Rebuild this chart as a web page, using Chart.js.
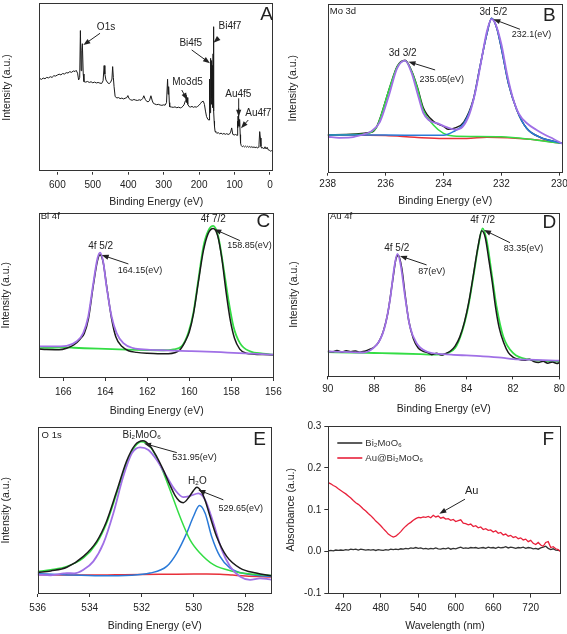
<!DOCTYPE html>
<html><head><meta charset="utf-8">
<script src="https://cdn.jsdelivr.net/npm/chart.js@4.4.1/dist/chart.umd.min.js"></script>
<style>
body{margin:0;background:#fff;width:567px;height:634px;position:relative;overflow:hidden}
canvas{position:absolute}
</style></head><body>
<canvas id="cA"></canvas><canvas id="cB"></canvas><canvas id="cC"></canvas>
<canvas id="cD"></canvas><canvas id="cE"></canvas><canvas id="cF"></canvas>
<script>
// ---------------- DATA ----------------
// Panel A: XPS survey (binding energy eV, intensity a.u. 0-100)
const surveyA = [[650,55.4],[645,54.8],[640,55.6],[635,55.2],[630,56.0],[625,55.7],[620,56.4],[615,56.0],[610,57.0],[605,56.8],[600,57.4],[595,57.9],[590,57.5],[585,58.3],[580,58.0],[575,58.8],[570,58.6],[565,59.4],[560,59.0],[555,59.8],[550,59.5],[547,60.2],[543,58.5],[540,54.5],[537,56],[535,83.8],[533,60],[531,72],[529.5,76],[527,58],[525,53.5],[520,53.2],[515,53.6],[510,53.0],[505,53.4],[500,52.8],[495,53.2],[490,52.7],[485,53.0],[480,52.6],[475,52.4],[471,54],[468,63],[466,58],[463,54.5],[458,52.8],[454,52.3],[450,53],[446,55],[444,62.4],[442,56],[440,50.5],[437,44.6],[432,43.8],[427,44],[423,43.4],[418,43.7],[413,43.2],[409,43.6],[404,44],[401,45.2],[398,43.5],[394,42.8],[389,42.4],[384,42.9],[379,42.5],[374,42.3],[369,42.7],[364,42.4],[359,43.5],[356,45.1],[352,43],[348,41.8],[344,41.5],[340,42.2],[336,45.1],[332,42],[329,40.6],[325,40.2],[320,39.8],[315,40],[310,39.6],[305,39.4],[300,39.7],[296,39.5],[292,41],[289,54.9],[287.5,46],[286,50.5],[284,41],[283,38.6],[278,38.4],[273,38.2],[268,38.5],[263,38.0],[258,38.3],[253,37.9],[249,38.2],[245,39],[242,40],[239,42],[237,45.5],[235,41],[234,44],[232,40],[228,38.6],[224,38.4],[220,38.8],[216,38.2],[212,38.6],[208,38.3],[204,38.8],[200,39.5],[196,40.5],[192,41.6],[188,41.8],[185,40],[182,36],[179,32.7],[175,31],[172,30.7],[171.5,36],[171,31],[170.5,48],[170,33],[169.5,55],[169,35],[168.5,60],[168,38],[167.5,64],[167,40],[166.5,67.3],[166,42],[165.5,66],[165,40],[164.5,65],[164,44],[163.5,63],[163,40],[162.5,58],[162,38],[161.5,55],[161,45],[160.5,70],[160,86.1],[159.5,62],[159,48],[158.5,55],[158,36],[157.5,30],[157,28],[156,26.7],[155,24],[153,23.5],[150,22.8],[146,23.2],[142,22.5],[138,22.9],[134,22.3],[130,22.7],[126,22.2],[122,22.6],[118,22.1],[114,22.4],[111,23.5],[108,26],[105,22.2],[101,21.8],[97,22.1],[93,21.6],[92,23],[91,30],[90.5,26],[90,33],[89.5,37.6],[89,27],[88.5,33],[88,28],[87.5,32],[87,27],[86.5,31],[86,27],[85.5,30],[84.6,30.7],[84,22],[83,17],[81,15.5],[78,14.8],[75,15.3],[72,14.7],[69,15.2],[66,14.6],[63,15.1],[60,14.5],[57,15],[54,14.4],[51,14.9],[48,14.3],[45,14.8],[42,14.2],[39,14.7],[36,14.1],[33,14.5],[31,16],[29,23.8],[27,20],[25.5,15],[23.5,14],[20,14.3],[17,13.6],[14,14.8],[11,13.5],[8,14.5],[5,13],[2,12.8],[-1,12.2],[-4,12.5],[-9,11.9]];
const ticksA = [600,500,400,300,200,100,0];

// Panel B: Mo 3d
const moRaw = [[238,21.3],[237.6,20.7],[237.2,20.9],[236.8,22.5],[236.5,24.5],[236.2,30],[235.9,45],[235.6,62],[235.33,66.4],[235.1,59],[234.9,47],[234.7,35.5],[234.5,31],[234.2,29.2],[233.9,27],[233.6,25.5],[233.35,27],[233.1,35],[232.9,48],[232.7,66],[232.5,84],[232.34,91],[232.2,88],[232.0,76],[231.8,58],[231.6,44],[231.4,35],[231.1,29],[230.8,25.5],[230.5,22.5],[230.2,20],[229.88,17]];
const moGreen = [[238,22.4],[237,22.6],[236.5,24],[236.3,27.3],[235.85,51],[235.6,62.8],[235.33,66.4],[235.1,59.9],[234.9,50],[234.7,37.2],[234.35,28.3],[234,23.3],[233.66,21.7],[233,21.5],[232,21.3],[231,19.8],[230,17.6],[229.88,17.5]];
const moBlue = [[238,22.4],[236,22.3],[234,22.2],[233.66,24.3],[233.3,29.2],[232.97,43],[232.74,62.8],[232.5,82.6],[232.34,91.5],[232.16,85.6],[231.99,72.7],[231.76,53],[231.47,37.2],[231.13,26.3],[230.67,21],[229.88,17.4]];
const moRed = [[238,22.4],[236,22],[235,21],[234,20.3],[233.2,20.3],[232.5,21],[231,19.8],[229.88,17.4]];
const moEnv = [[238,22.4],[236.5,24],[236.3,27.5],[235.85,51],[235.6,63],[235.33,66.6],[235.1,60.2],[234.9,50.5],[234.7,38.5],[234.35,30.5],[234,27.5],[233.83,25.7],[233.6,26.6],[233.3,30],[232.97,43.5],[232.74,63],[232.5,82.6],[232.34,91.5],[232.16,85.6],[231.99,72.7],[231.76,53],[231.47,37.2],[231.13,26.3],[230.67,21],[229.88,17.4]];
const ticksB = [238,236,234,232,230];

// Panel C: Bi 4f
const biPurple = [[167.15,19.1],[166.5,19.1],[165.84,19.5],[165.37,22.1],[165.05,27.2],[164.81,37.2],[164.57,57.3],[164.37,72.4],[164.25,75.9],[164.1,70.4],[163.94,55.3],[163.7,37.2],[163.46,27.2],[163.14,21.1],[162.67,18.1],[162,17.2],[161.08,16.7],[160,16.3],[159.5,16.1],[158.5,15.6],[157.9,15.2],[157,14.7],[155.97,14.1]];
const biGreen = [[167.15,18.1],[166.5,18.3],[166,18.5],[165.5,18.3],[165,18],[164,17.6],[163,17.2],[162,16.9],[161.5,16.8],[161,16.9],[160.76,17.3],[160.37,19.1],[160.05,27.2],[159.81,39.2],[159.57,59.4],[159.33,79.5],[159.1,89],[158.86,92],[158.62,85.5],[158.38,67.4],[158.14,47.3],[157.9,31.2],[157.59,21.1],[157.11,16.1],[156.5,14.8],[155.97,14.1]];
const biRaw = [[167.15,17.5],[166.8,17.2],[166.2,17.1],[165.84,18],[165.5,20],[165.2,23.5],[165,27],[164.8,36],[164.57,56],[164.37,71],[164.25,74.5],[164.1,70],[163.94,56],[163.7,36],[163.5,25],[163.2,19],[162.9,16.5],[162.5,15.5],[162,14.9],[161.5,14.6],[161,14.7],[160.7,15.3],[160.45,17],[160.2,22],[160.0,28],[159.8,39],[159.57,58],[159.33,77],[159.1,87.5],[158.86,90.5],[158.65,86],[158.45,72],[158.25,52],[158.05,35],[157.85,24],[157.6,17.5],[157.3,15],[156.9,14.4],[156.5,14.2],[155.97,14]];
const ticksC = [166,164,162,160,158,156];

// Panel D: Au 4f
const auPurple = [[90,15.2],[89.5,15],[89,14.8],[88.46,14.6],[88.03,17.3],[87.74,22.4],[87.53,30.5],[87.31,46.7],[87.12,67.1],[86.99,74.8],[86.85,68.1],[86.66,48.8],[86.45,30.5],[86.16,20.3],[85.73,15.2],[85,13.6],[84.58,13.2],[84,12.8],[83.42,12.4],[82.5,11.5],[81.99,10.6],[81,10.1],[80,9.6]];
const auGreen = [[90,14.8],[89,14.6],[88,14.3],[87,14],[86,13.6],[85.5,13.3],[85,13.4],[84.86,14],[84.5,17.3],[84.22,26.4],[83.93,42.7],[83.71,61],[83.5,79.3],[83.31,90.4],[83.14,83.3],[82.92,63],[82.71,42.7],[82.42,24.4],[81.99,14.2],[81.27,10.2],[80.5,9.4],[80,9.1]];
const auRaw = [[90,15.4],[89.8,15],[89.6,15.8],[89.4,14.9],[89.2,15.6],[89,15.1],[88.8,15.5],[88.6,14.8],[88.4,15.4],[88.2,16.5],[88,17.8],[87.8,21],[87.6,27.5],[87.4,39],[87.2,58],[87.05,72],[86.95,74],[86.8,66],[86.65,49],[86.5,34],[86.3,23],[86.1,17.5],[85.9,15.5],[85.7,14.6],[85.5,13.3],[85.3,14.2],[85.1,13],[84.9,14],[84.7,15.5],[84.5,18.5],[84.3,24],[84.1,33],[83.9,46],[83.7,63],[83.5,80],[83.35,89],[83.2,85],[83.05,72],[82.9,58],[82.75,42],[82.6,30],[82.4,20.5],[82.2,14.5],[82,11.8],[81.8,10.6],[81.5,9.8],[81.3,10.5],[81.1,9],[80.9,8.5],[80.7,9.2],[80.5,8.1],[80.3,8.8],[80.1,7.9],[80,8.4]];
const ticksD = [90,88,86,84,82,80];

// Panel E: O 1s
const oGreen = [[536,13.5],[535.5,14.5],[534.88,16.5],[534.24,21.5],[533.73,30.4],[533.35,42.3],[532.96,60.2],[532.58,78.1],[532.26,88.1],[532,91],[531.68,88.1],[531.29,77.1],[530.91,62.2],[530.53,46.3],[530.14,32.4],[529.76,24.5],[529.24,17.5],[528.47,13.5],[527.8,12],[527,11.1]];
const oBlue = [[536,12.1],[535,11.5],[533.6,10.9],[532.4,11.2],[531.68,12.5],[531.04,16.5],[530.65,24.5],[530.27,36.4],[530.01,46.3],[529.78,52.9],[529.56,48.3],[529.31,34.4],[528.99,22.5],[528.6,15.5],[527.96,11.9],[527,10.5]];
const oRed = [[536,11.5],[535,11.4],[534,11.3],[533,11.5],[532,11.7],[531,11.8],[530,11.9],[529.5,12],[529,11.8],[528.5,11.3],[528,10.8],[527,10.1]];
const oEnv = [[536,12.8],[535.5,13.8],[534.88,16],[534.24,22.5],[533.73,31.5],[533.35,43.5],[532.96,61.5],[532.58,79.5],[532.26,89],[531.95,91.6],[531.68,88.5],[531.42,82],[531.17,74.2],[530.91,65],[530.72,59],[530.55,55.5],[530.4,54.6],[530.2,57.5],[530.0,62],[529.88,63.8],[529.7,61],[529.55,55.5],[529.37,46.3],[529.12,34.4],[528.73,22.5],[528.22,15.5],[527.6,12.5],[527,10.9]];
const oRaw = [[536,11.5],[535.5,11.2],[535,12.3],[534.88,12.5],[534.6,12.3],[534.24,14.5],[533.86,19.5],[533.47,30.4],[533.09,48.3],[532.71,70.2],[532.38,84.1],[532.06,87.7],[531.74,86.1],[531.42,80.1],[531.04,70.2],[530.72,62.2],[530.4,57.9],[530.14,58.6],[529.82,60.2],[529.56,56.3],[529.24,42.3],[528.92,26.4],[528.6,16.5],[528.22,10.5],[527.83,8.5],[527.45,9.3],[527.2,9],[527,8.5]];
const ticksE = [536,534,532,530,528];

// Panel F: UV-vis absorbance
const wavelengths = [396,400,404,408,412,416,420,424,428,432,436,440,444,448,452,456,460,464,468,472,476,480,484,488,492,496,500,504,508,512,516,520,524,528,532,536,540,544,548,552,556,560,564,568,572,576,580,584,588,592,596,600,604,608,612,616,620,624,628,632,636,640,644,648,652,656,660,664,668,672,676,680,684,688,692,696,700,704,708,712,716,720,724,728,732,736,740,744,748,752,756,760,764,768];
const absAu = [0.165,0.162,0.158,0.155,0.150,0.146,0.142,0.138,0.133,0.128,0.122,0.117,0.113,0.108,0.102,0.097,0.091,0.086,0.080,0.073,0.068,0.062,0.055,0.049,0.042,0.038,0.035,0.037,0.042,0.048,0.055,0.061,0.066,0.070,0.075,0.079,0.082,0.081,0.083,0.082,0.084,0.081,0.087,0.083,0.085,0.080,0.082,0.078,0.079,0.075,0.077,0.072,0.074,0.076,0.068,0.067,0.064,0.066,0.060,0.062,0.057,0.059,0.053,0.055,0.051,0.052,0.047,0.050,0.044,0.046,0.040,0.042,0.037,0.039,0.034,0.036,0.031,0.033,0.028,0.030,0.024,0.027,0.020,0.017,0.022,0.016,0.013,0.022,0.024,0.010,0.012,0.007,0.005,0.000];
const absBi = [0.002,0.003,0.002,0.004,0.003,0.004,0.003,0.005,0.004,0.006,0.005,0.006,0.004,0.006,0.005,0.004,0.005,0.004,0.005,0.003,0.005,0.004,0.003,0.005,0.004,0.006,0.005,0.006,0.005,0.007,0.006,0.008,0.007,0.009,0.008,0.010,0.008,0.009,0.007,0.008,0.006,0.008,0.007,0.009,0.007,0.006,0.008,0.007,0.009,0.006,0.008,0.007,0.009,0.011,0.008,0.009,0.008,0.010,0.009,0.010,0.008,0.009,0.010,0.008,0.011,0.009,0.010,0.008,0.011,0.009,0.010,0.012,0.009,0.011,0.010,0.008,0.010,0.009,0.011,0.008,0.010,0.009,0.007,0.008,0.006,0.009,0.011,0.013,0.008,0.005,0.007,0.004,0.003,0.002];
const ticksFx = [420,480,540,600,660,720];
const ticksFy = [-0.1,0,0.1,0.2,0.3];

// ---------------- RENDERING ----------------
const FONT = "'Liberation Sans', Arial, Helvetica, sans-serif";
Chart.defaults.font.family = FONT;
Chart.defaults.color = '#222';
const C = {purple:'#a070e6', green:'#33dd44', blue:'#2a7ad8', red:'#e8303a', black:'#1a1a1a'};

const framePlugin = {id:'frame', afterDraw(chart){
  const {ctx, chartArea:a} = chart;
  ctx.save(); ctx.strokeStyle='#333'; ctx.lineWidth=1;
  ctx.strokeRect(Math.round(a.left)+0.5, Math.round(a.top)+0.5, Math.round(a.right-a.left)-1, Math.round(a.bottom-a.top)-1);
  ctx.restore();
}};

function notesPlugin(items){ return {id:'notes', afterDraw(chart){
  const {ctx} = chart, xs = chart.scales.x, ys = chart.scales.y;
  ctx.save(); ctx.fillStyle='#222'; ctx.strokeStyle='#222';
  for (const n of items){
    if (n.arrow){
      const [a,b,c,d] = n.arrow;
      const x1=xs.getPixelForValue(a), y1=ys.getPixelForValue(b), x2=xs.getPixelForValue(c), y2=ys.getPixelForValue(d);
      const ang = Math.atan2(y2-y1, x2-x1), L=7, W=2.6;
      ctx.lineWidth=1; ctx.beginPath(); ctx.moveTo(x1,y1); ctx.lineTo(x2-Math.cos(ang)*L*0.8, y2-Math.sin(ang)*L*0.8); ctx.stroke();
      ctx.beginPath(); ctx.moveTo(x2,y2);
      ctx.lineTo(x2-Math.cos(ang)*L - Math.sin(ang)*W, y2-Math.sin(ang)*L + Math.cos(ang)*W);
      ctx.lineTo(x2-Math.cos(ang)*L + Math.sin(ang)*W, y2-Math.sin(ang)*L - Math.cos(ang)*W);
      ctx.closePath(); ctx.fill();
    } else {
      ctx.font = (n.size||10)+'px '+FONT; ctx.textAlign = n.align||'center'; ctx.textBaseline='middle';
      ctx.fillText(n.text, xs.getPixelForValue(n.x), ys.getPixelForValue(n.y));
    }
  }
  ctx.restore();
}};}

const legendF = {id:'legendF', afterDraw(chart){
  const {ctx, chartArea:a} = chart;
  ctx.save(); ctx.font='9.5px '+FONT; ctx.textBaseline='middle'; ctx.textAlign='left';
  chart.data.datasets.forEach((ds,i)=>{
    const y = a.top + 17 + i*15;
    ctx.strokeStyle = ds.borderColor; ctx.lineWidth = 1.6;
    ctx.beginPath(); ctx.moveTo(a.left+9, y); ctx.lineTo(a.left+34, y); ctx.stroke();
    ctx.fillStyle='#333'; ctx.fillText(ds.label, a.left+37, y);
  });
  ctx.restore();
}};

function xScale(min,max,reverse,ticks,tl,pad,title,xH){
  return {type:'linear',min,max,reverse,
    afterBuildTicks:s=>{s.ticks=ticks.map(v=>({value:v}));},
    afterFit:s=>{s.height=xH;s.paddingLeft=0;s.paddingRight=0;},
    grid:{display:true,drawOnChartArea:false,drawTicks:true,tickLength:tl,color:'#333',lineWidth:1},
    border:{display:false},
    ticks:{autoSkip:false,maxRotation:0,minRotation:0,padding:pad,font:{size:10},color:'#222',callback:v=>String(v)},
    title:{display:true,text:title,font:{size:10.5},color:'#222',padding:0}
  };
}
function yBlank(yW){
  return {type:'linear',min:0,max:100,
    afterFit:s=>{s.width=yW;s.paddingTop=0;s.paddingBottom=0;},
    grid:{display:false}, border:{display:false}, ticks:{display:false},
    title:{display:true,text:'Intensity (a.u.)',font:{size:10.5},color:'#222',padding:0}
  };
}

function build(id, L, datasets, xCfg, yFn, notes, extra){
  const c = document.getElementById(id);
  c.width = L.cw; c.height = L.ch; c.style.left = L.cx+'px'; c.style.top = L.cy+'px';
  const padLeft = Math.max(0, L.ytx - L.cx - 6.3);
  const yW = L.box[0] - L.cx - padLeft;
  const xH = L.cy + L.ch - L.box[3];
  const x = xScale(xCfg.min, xCfg.max, xCfg.reverse, xCfg.ticks, xCfg.tl, xCfg.pad, xCfg.title, xH);
  return new Chart(c, {
    type:'line',
    data:{datasets},
    options:{
      responsive:false, animation:false, devicePixelRatio:1,
      layout:{padding:{left:padLeft, top:L.box[1]-L.cy, right:L.cx+L.cw-L.box[2], bottom:0}},
      plugins:{legend:{display:false}, tooltip:{enabled:false}},
      elements:{point:{radius:0}, line:{borderWidth:1.5, cubicInterpolationMode:'monotone'}},
      scales:{x, y:yFn(yW)}
    },
    plugins:[framePlugin, notesPlugin(notes)].concat(extra||[])
  });
}
const ds = (label,data,color,order,w) => ({label,data,borderColor:color,backgroundColor:color,order,borderWidth:w||1.5,fill:false});

// A
build('cA', {cx:0,cy:0,cw:283,ch:208,box:[39.3,3.3,273.3,171.7],ytx:7.5},
  [Object.assign(ds('Survey',surveyA,'#1a1a1a',0,1),{cubicInterpolationMode:'default',tension:0})],
  {min:-9.4,max:651,reverse:true,ticks:ticksA,tl:3,pad:5,title:'Binding Energy (eV)'}, yBlank,
  [{text:'O1s',x:462.7,y:85.5},{arrow:[479.6,82.2,526.7,75.2]},
   {text:'Bi4f7',x:113,y:86.6},{arrow:[145.5,79.2,159.5,76.6]},
   {text:'Bi4f5',x:223.5,y:76.4},{arrow:[221,72.3,169.3,64.4]},
   {text:'Mo3d5',x:232.8,y:52.9},{arrow:[249,48.5,233.3,42.6]},
   {text:'Au4f5',x:89.4,y:46},{arrow:[88.3,43.6,88.3,32.7]},
   {text:'Au4f7',x:33,y:34.7},{arrow:[61.2,30.7,81.8,25.8]},
   {text:'A',x:9.4,y:93,size:19}]);

// B
build('cB', {cx:283,cy:0,cw:284,ch:207,box:[327.7,4,562.7,172.7],ytx:293.5},
  [ds('raw',moRaw,C.purple,0,1.8),ds('3d5/2',moBlue,C.blue,1),ds('3d3/2',moGreen,C.green,2),ds('envelope',moEnv,C.black,3),ds('bg',moRed,C.red,4)],
  {min:229.885,max:238,reverse:true,ticks:ticksB,tl:3,pad:3,title:'Binding Energy (eV)'}, yBlank,
  [{text:'Mo 3d',x:237.93,y:95.8,size:9.5,align:'left'},
   {text:'3d 5/2',x:232.28,y:94.9,size:10},{text:'232.1(eV)',x:230.96,y:82,size:9},{arrow:[231.36,85,232.28,91]},
   {text:'3d 3/2',x:235.41,y:70.8,size:10},{text:'235.05(eV)',x:234.06,y:55.3,size:9},{arrow:[234.29,60.9,235.21,65.8]},
   {text:'B',x:230.35,y:92.9,size:19}]);

// C
build('cC', {cx:0,cy:209,cw:283,ch:208.3,box:[39.3,212.7,274,378.3],ytx:6},
  [ds('4f5/2',biPurple,C.purple,0,1.8),ds('raw',biRaw,C.black,1),ds('4f7/2',biGreen,C.green,2,1.8)],
  {min:155.97,max:167.14,reverse:true,ticks:ticksC,tl:3,pad:5,title:'Binding Energy (eV)'}, yBlank,
  [{text:'Bi 4f',x:167.07,y:97.5,size:9.5,align:'left'},
   {text:'4f 7/2',x:158.86,y:96,size:10},{text:'158.85(eV)',x:157.14,y:80,size:9},{arrow:[157.59,83.1,158.81,90]},
   {text:'4f 5/2',x:164.22,y:79.9,size:10},{text:'164.15(eV)',x:162.35,y:64.8,size:9},{arrow:[162.9,69,164.17,74.4]},
   {text:'C',x:156.48,y:94.6,size:19}]);

// D
build('cD', {cx:283,cy:209,cw:284,ch:206.3,box:[327.7,212.7,560,376.7],ytx:294},
  [ds('4f5/2',auPurple,C.purple,0,1.8),ds('raw',auRaw,C.black,1),ds('4f7/2',auGreen,C.green,2,1.8)],
  {min:79.97,max:90,reverse:true,ticks:ticksD,tl:3,pad:4,title:'Binding Energy (eV)'}, yBlank,
  [{text:'Au 4f',x:89.9,y:98,size:9.5,align:'left'},
   {text:'4f 7/2',x:83.31,y:95.1,size:10},{text:'83.35(eV)',x:81.55,y:78.3,size:9},{arrow:[82.13,81.7,83.25,89.4]},
   {text:'4f 5/2',x:87.02,y:78.3,size:10},{text:'87(eV)',x:85.51,y:63.8,size:9},{arrow:[85.73,68.1,86.88,73.6]},
   {text:'D',x:80.43,y:93.9,size:19}]);

// E
build('cE', {cx:0,cy:418,cw:283,ch:214.3,box:[37.7,426.7,271.7,594.3],ytx:6},
  [ds('envelope',oEnv,C.black,0),ds('raw',oRaw,C.purple,1,1.8),ds('lattice O',oGreen,C.green,2),ds('H2O',oBlue,C.blue,3),ds('bg',oRed,C.red,4)],
  {min:527,max:536,reverse:true,ticks:ticksE,tl:3,pad:5,title:'Binding Energy (eV)'}, yBlank,
  [{text:'O 1s',x:535.85,y:95,size:9.5,align:'left'},
   {text:'Bi\u2082MoO\u2086',x:532,y:95,size:10},{text:'531.95(eV)',x:529.97,y:81.5,size:9},{arrow:[530.65,84.5,531.91,90]},
   {text:'H\u2082O',x:529.86,y:67.6,size:10},{text:'529.65(eV)',x:528.19,y:51.3,size:9},{arrow:[528.86,56.3,529.82,62.2]},
   {text:'E',x:527.47,y:92.4,size:19}]);

// F
const rowsBi = wavelengths.map((w,i)=>({x:w,y:absBi[i]}));
const rowsAu = wavelengths.map((w,i)=>({x:w,y:absAu[i]}));
build('cF', {cx:283,cy:418,cw:284,ch:214.9,box:[328.3,426,561.7,594.5],ytx:291},
  [Object.assign(ds('Bi\u2082MoO\u2086',rowsBi,'#333',1,1.3),{cubicInterpolationMode:'default',tension:0}),
   Object.assign(ds('Au@Bi\u2082MoO\u2086',rowsAu,'#e8203a',0,1.3),{cubicInterpolationMode:'default',tension:0})],
  {min:396,max:769.6,reverse:false,ticks:ticksFx,tl:4,pad:5,title:'Wavelength (nm)'},
  yW=>({type:'linear',min:-0.1,max:0.3,
    afterBuildTicks:s=>{s.ticks=ticksFy.map(v=>({value:v}));},
    afterFit:s=>{s.width=yW;s.paddingTop=0;s.paddingBottom=0;},
    grid:{display:true,drawOnChartArea:false,drawTicks:true,tickLength:4,color:'#333'},
    border:{display:false},
    ticks:{padding:3,font:{size:10},color:'#222',callback:v=>v.toFixed(1)},
    title:{display:true,text:'Absorbance (a.u.)',font:{size:10.5},color:'#222',padding:0}}),
  [{text:'Au',x:625.5,y:0.144,size:11},{arrow:[614.8,0.1254,573.7,0.0905]},
   {text:'F',x:748,y:0.268,size:19}],
  [legendF]);
</script>
</body></html>
